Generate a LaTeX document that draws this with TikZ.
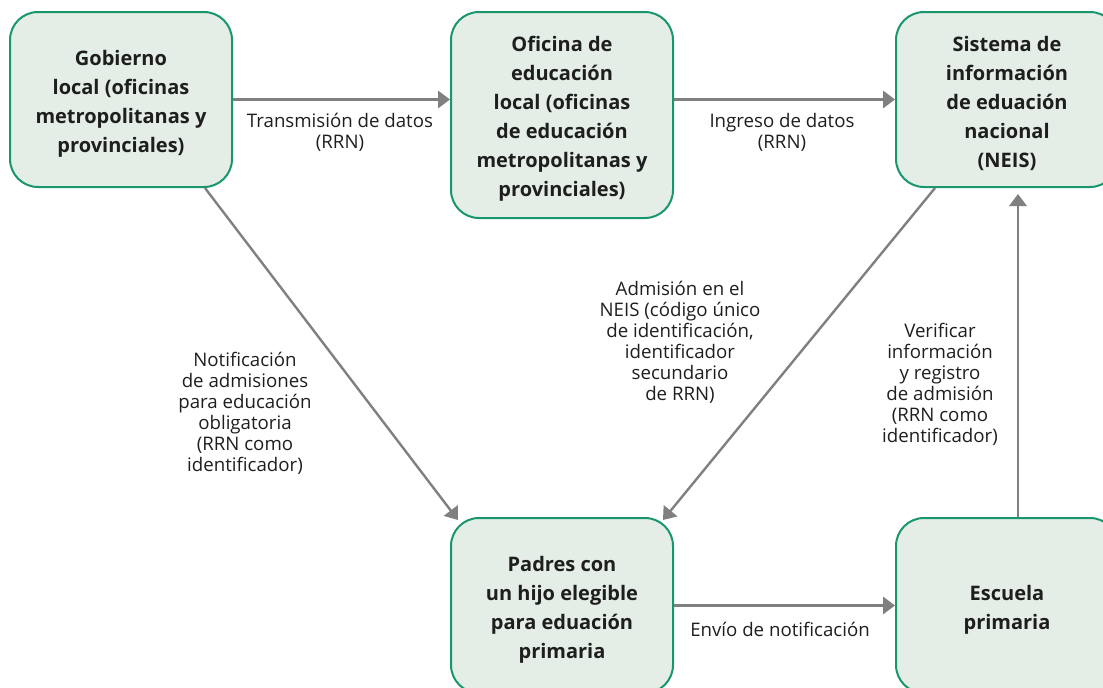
\documentclass[tikz,border=0pt]{standalone}
\usepackage{fontspec}
\setmainfont{Open Sans}
\usetikzlibrary{arrows.meta,calc}
\definecolor{boxfill}{RGB}{228,237,230}
\definecolor{boxline}{RGB}{24,150,108}
\definecolor{arrgray}{RGB}{128,128,128}
\definecolor{txt}{RGB}{30,30,30}
\tikzset{
  box/.style={draw=boxline, line width=1.5pt, fill=boxfill, rounded corners=21pt,
    minimum width=166.5pt, minimum height=131.25pt, inner sep=0pt},
  boxtext/.style={align=center, text=txt, yshift=-3pt, inner sep=0pt,
    font=\fontsize{15}{21.75}\selectfont\bfseries},
  arr/.style={draw=arrgray, line width=1.8pt, -{Triangle[length=9pt,width=13pt]}},
  lbl/.style={align=center, text=txt, font=\fontsize{14}{15.75}\selectfont, inner sep=0pt}
}
\begin{document}
\begin{tikzpicture}[x=0.75pt,y=-0.75pt]
\useasboundingbox (0,0) rectangle (1103,687);
\clip (0,0) rectangle (1103,687);
\node[box, label={[boxtext]center:{Gobierno\\local (oficinas\\metropolitanas y\\provinciales)}}] (b1) at (121,99.5) {};
\node[box, minimum height=154.5pt, label={[boxtext]center:{Oficina de\\educación\\local (oficinas\\de educación\\metropolitanas y\\provinciales)}}] (b2) at (562,115) {};
\node[box, label={[boxtext]center:{Sistema de\\información\\de eduación\\nacional\\(NEIS)}}] (b3) at (1007,99.5) {};
\node[box, label={[boxtext]center:{Padres con\\un hijo elegible\\para eduación\\primaria}}] (b4) at (562,605.5) {};
\node[box, label={[boxtext]center:{Escuela\\primaria}}] (b5) at (1007,605.5) {};
\coordinate (vx) at (1018,0);
\draw[arr] (b1.east) -- (b1.east -| b2.west);
\draw[arr] (b3.west -| b2.east) -- (b3.west);
\draw[arr] ($(b1.south)+(84,0)$) -- ($(b4.north west)+(8,3)$);
\draw[arr] ($(b3.south)+(-72,0)$) -- ($(b4.north east)+(-11,3)$);
\draw[arr] (b4.east) -- (b5.west);
\draw[arr, shorten >=4.5pt] (b5.north -| vx) -- (b3.south -| vx);
\node[lbl] (l1) at (340,132) {Transmisión de datos\\(RRN)};
\node[lbl] (l2) at (782,132) {Ingreso de datos\\(RRN)};
\node[lbl] (l3) at (245,413.5) {Notificación\\de admisiones\\para educación\\obligatoria\\(RRN como\\identificador)};
\node[lbl] (l4) at (680,342) {Admisión en el\\NEIS (código único\\de identificación,\\identificador\\secundario\\de RRN)};
\node[lbl] (l5) at (940,384) {Verificar\\información\\y registro\\de admisión\\(RRN como\\identificador)};
\node[lbl] (l6) at (780,629) {Envío de notificación};
\end{tikzpicture}
\end{document}
